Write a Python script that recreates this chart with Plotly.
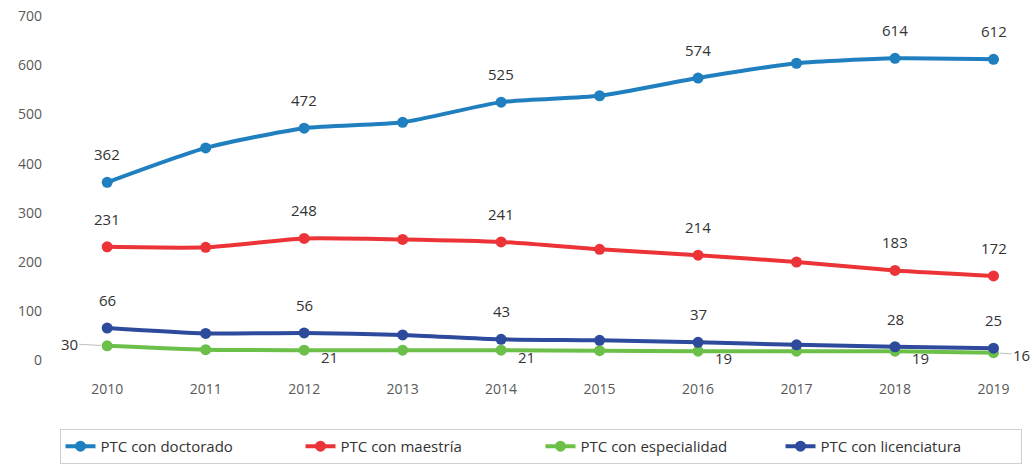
import plotly.graph_objects as go

years = [2010, 2011, 2012, 2013, 2014, 2015, 2016, 2017, 2018, 2019]
doctorado = [362, 432, 472, 484, 525, 538, 574, 604, 614, 612]
maestria = [231, 230, 248, 246, 241, 226, 214, 200, 183, 172]
especialidad = [30, 22, 21, 21, 21, 20, 19, 19, 19, 16]
licenciatura = [66, 55, 56, 52, 43, 41, 37, 32, 28, 25]
labeled_years = [2010, 2012, 2014, 2016, 2018, 2019]

series = [
    ("PTC con doctorado", doctorado, "#1f7fbf"),
    ("PTC con maestría", maestria, "#ec3438"),
    ("PTC con especialidad", especialidad, "#6cc04a"),
    ("PTC con licenciatura", licenciatura, "#2e4a9c"),
]

FONT = "Open Sans, Liberation Sans, sans-serif"

fig = go.Figure()
for name, vals, col in series:
    fig.add_trace(go.Scatter(
        x=years, y=vals, name=name, mode="lines+markers",
        line=dict(color=col, width=4, shape="spline", smoothing=0.6),
        marker=dict(color=col, size=11),
    ))

anns = []
font = dict(family=FONT, size=15, color="#333333")
for vals in (doctorado, maestria, licenciatura):
    for yr in labeled_years:
        i = years.index(yr)
        anns.append(dict(x=yr, y=vals[i], text=str(vals[i]), showarrow=False,
                         yshift=28, font=font))
# especialidad labels
for yr in [2012, 2014, 2016, 2018]:
    i = years.index(yr)
    anns.append(dict(x=yr, y=especialidad[i], text=str(especialidad[i]), showarrow=False,
                     xshift=25, yshift=-7, font=font))
anns.append(dict(x=years[0], y=especialidad[0], text=str(especialidad[0]), showarrow=True,
                 arrowhead=0, arrowcolor="#c0c0c0", arrowwidth=1, ax=-38, ay=-2,
                 standoff=6, font=font))
anns.append(dict(x=years[-1], y=especialidad[-1], text=str(especialidad[-1]), showarrow=True,
                 arrowhead=0, arrowcolor="#c0c0c0", arrowwidth=1, ax=28, ay=2,
                 standoff=6, font=font))

fig.update_layout(
    width=1036, height=474,
    margin=dict(l=55, r=10, t=16, b=106),
    paper_bgcolor="white", plot_bgcolor="white",
    font=dict(family=FONT, size=14, color="#595959"),
    annotations=anns,
    showlegend=True,
    legend=dict(orientation="h", x=0.5, xanchor="center", y=-0.19, yanchor="top",
                bordercolor="#d0d0d0", borderwidth=1,
                font=dict(size=15, color="#333333"),
                entrywidth=195, entrywidthmode="pixels"),
    xaxis=dict(range=[2009.47, 2019.33], tickmode="array", tickvals=years,
               showgrid=False, zeroline=False, showline=False,
               ticks="", ticklabelstandoff=16, automargin=False),
    yaxis=dict(range=[-5, 700], tickvals=[0, 100, 200, 300, 400, 500, 600, 700],
               showgrid=False, zeroline=False, showline=False, ticks="",
               ticklabelstandoff=12, automargin=False),
)

fig.write_html("out.html", config={"displayModeBar": False},
               post_script="document.body.style.margin='0px';")
